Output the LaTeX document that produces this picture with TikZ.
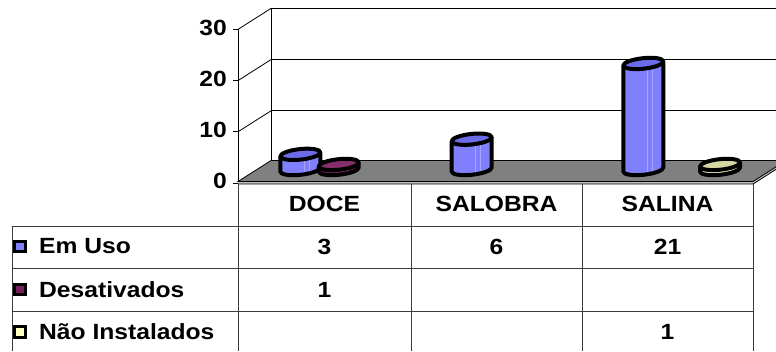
\documentclass[tikz,border=0pt]{standalone}
\usepackage{fontspec}
\newfontfamily\chartfont[FakeStretch=1.12]{Liberation Sans}

\definecolor{emuso}{RGB}{128,128,255}
\definecolor{emusotop}{RGB}{108,108,234}
\definecolor{desat}{RGB}{120,30,90}
\definecolor{desattop}{RGB}{135,45,105}
\definecolor{naoinst}{RGB}{236,236,190}
\definecolor{naoinsttop}{RGB}{214,214,160}
\definecolor{legyellow}{RGB}{255,255,192}
\definecolor{floorgray}{RGB}{128,128,128}
\definecolor{floorside}{RGB}{192,192,192}
\definecolor{tabrule}{RGB}{60,60,60}

\tikzset{
  chartline/.style={draw=black, line width=0.8pt},
  tabline/.style={draw=tabrule, line width=0.8pt},
  lbl/.style={font=\chartfont\bfseries\fontsize{22}{24}\selectfont, inner sep=0pt},
  legmark/.style={draw=black, line width=3pt, minimum size=10.5pt, inner sep=0pt},
  cylline/.style={draw=black, line width=4pt, line join=round},
}

\newcommand{\drawcyl}[4]{%
  \begin{scope}[shift={(#1,181.5)}, yslant=0.1]
    \pgfmathsetmacro{\cylh}{#2*5.05}
    \fill[#3] (-20,\cylh) -- (-20,0) arc[start angle=180, end angle=360, x radius=20, y radius=5.3] -- (20,\cylh) -- cycle;
    \draw[white!30!#3, line width=0.7pt] (4,-4.6) -- (4,\cylh);
    \draw[white!30!#3, line width=0.7pt] (9,-4.2) -- (9,\cylh);
    \draw[cylline] (-20,\cylh) -- (-20,0) arc[start angle=180, end angle=360, x radius=20, y radius=5.3] -- (20,\cylh);
    \filldraw[cylline, fill=#4] (0,\cylh) ellipse[x radius=20, y radius=5.3];
  \end{scope}}

\begin{document}
\begin{tikzpicture}[x=1pt, y=1pt]
\useasboundingbox (0,0) rectangle (776,351);
\fill[white] (0,0) rectangle (776,351);

\draw[chartline] (271,342.6) -- (776,342.6);
\draw[chartline] (271,291.4) -- (776,291.4);
\draw[chartline] (271,240.2) -- (776,240.2);
\draw[chartline] (271,190.5) -- (271,342.6);
\draw[chartline] (238,321.6) -- (271,342.6);
\draw[chartline] (238,270.4) -- (271,291.4);
\draw[chartline] (238,219.2) -- (271,240.2);
\draw[chartline] (238,167) -- (238,321.6);

\draw[chartline] (233,321.6) -- (238,321.6);
\draw[chartline] (233,270.4) -- (238,270.4);
\draw[chartline] (233,219.2) -- (238,219.2);
\draw[chartline] (233,168) -- (238,168);
\node[lbl, anchor=east] (ax30) at (227,323.5) {30};
\node[lbl, anchor=east] (ax20) at (227,272.3) {20};
\node[lbl, anchor=east] (ax10) at (227,221.1) {10};
\node[lbl, anchor=east] (ax0) at (227,169.9) {0};

\fill[floorside] (238,167) -- (753,167) -- (786,188) -- (786,190.5) -- (271,190.5) -- (238,169.5) -- cycle;
\filldraw[fill=floorgray, chartline] (238,169.5) -- (753,169.5) -- (786,190.5) -- (271,190.5) -- cycle;
\draw[chartline] (238,167) -- (753,167) -- (786,188);

\drawcyl{300.3}{3}{emuso}{emusotop}
\drawcyl{338.7}{1}{desat}{desattop}
\drawcyl{471.7}{6}{emuso}{emusotop}
\drawcyl{643.3}{21}{emuso}{emusotop}
\drawcyl{720}{1}{naoinst}{naoinsttop}

\draw[tabline] (238,167) -- (238,0);
\draw[tabline] (411,167) -- (411,0);
\draw[tabline] (582,167) -- (582,0);
\draw[tabline] (753,167) -- (753,0);
\draw[tabline] (12,125) -- (753,125);
\draw[tabline] (12,82.5) -- (753,82.5);
\draw[tabline] (12,40) -- (753,40);
\draw[tabline] (12,125) -- (12,0);

\node[lbl] (hDoce) at (324.5,147.5) {DOCE};
\node[lbl] (hSalobra) at (496.5,147.5) {SALOBRA};
\node[lbl] (hSalina) at (667.5,147.5) {SALINA};

\node[legmark, fill=emuso] (mkEmUso) at (20,104.5) {};
\node[lbl, anchor=west] (lgEmUso) at (39,104.5) {Em Uso};
\node[legmark, fill=desat] (mkDesat) at (20,61.5) {};
\node[lbl, anchor=west] (lgDesat) at (39,61.5) {Desativados};
\node[legmark, fill=legyellow] (mkNaoInst) at (20,19) {};
\node[lbl, anchor=west] (lgNaoInst) at (39,19) {Não Instalados};

\node[lbl] (vEmDoce) at (324.5,104.5) {3};
\node[lbl] (vEmSalobra) at (496.5,104.5) {6};
\node[lbl] (vEmSalina) at (667.5,104.5) {21};
\node[lbl] (vDesatDoce) at (324.5,61.5) {1};
\node[lbl] (vNaoSalina) at (667.5,19) {1};

\end{tikzpicture}
\end{document}
